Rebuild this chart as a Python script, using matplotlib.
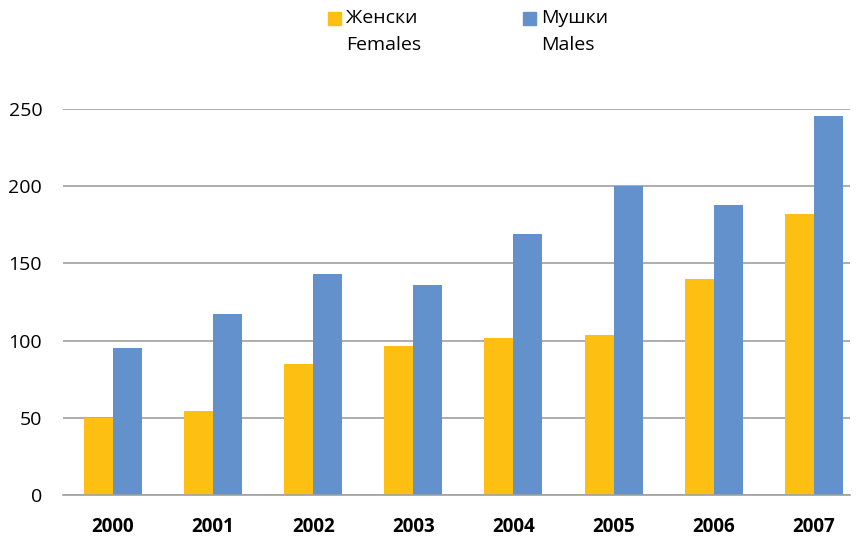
import matplotlib.pyplot as plt
import numpy as np
from matplotlib.patches import Rectangle

years = ['2000', '2001', '2002', '2003', '2004', '2005', '2006', '2007']
females = [50, 54.5, 85, 96.5, 102, 103.5, 140, 182]
males = [95, 117, 143, 136, 169, 200, 188, 245.5]

yellow = '#FCBF12'
blue = '#6391CB'
grid_col = '#A0A0A0'

plt.rcParams['font.family'] = ['Open Sans', 'DejaVu Sans']

fig = plt.figure(figsize=(8.58, 5.39), dpi=100)
ax = fig.add_axes([63 / 858, 0.0816, 787 / 858, 0.7162])

x = np.arange(len(years))
w = 0.29
ax.bar(x - w / 2, females, width=w, color=yellow, zorder=3)
ax.bar(x + w / 2, males, width=w, color=blue, zorder=3)

ax.set_xlim(-0.5, 7.362)
ax.set_ylim(0, 250)
ax.set_yticks(np.arange(0, 251, 50))
ax.yaxis.grid(True, color=grid_col, linewidth=1.2, zorder=0)
ax.set_axisbelow(True)
for s in ['top', 'right', 'left']:
    ax.spines[s].set_visible(False)
ax.spines['bottom'].set_color(grid_col)
ax.spines['bottom'].set_linewidth(1.2)
ax.spines['bottom'].set_zorder(4)

ax.set_xticks(x)
ax.set_xticklabels(years, fontweight='bold')
ax.tick_params(axis='x', length=0, pad=16, labelsize=13.5)
ax.tick_params(axis='y', length=0, pad=15, labelsize=14)

# legend drawn by hand: square next to first line, two-line labels
fig.patches.append(Rectangle((328 / 858, 1 - 25 / 539), 13 / 858, 13 / 539,
                             transform=fig.transFigure, color=yellow))
fig.text(346 / 858, 1 - 18 / 539, 'Женски', fontsize=14, va='center')
fig.text(346 / 858, 1 - 45 / 539, 'Females', fontsize=14, va='center')
fig.patches.append(Rectangle((523 / 858, 1 - 25 / 539), 13 / 858, 13 / 539,
                             transform=fig.transFigure, color=blue))
fig.text(541 / 858, 1 - 18 / 539, 'Мушки', fontsize=14, va='center')
fig.text(541 / 858, 1 - 45 / 539, 'Males', fontsize=14, va='center')

fig.savefig('out.png', dpi=100)
